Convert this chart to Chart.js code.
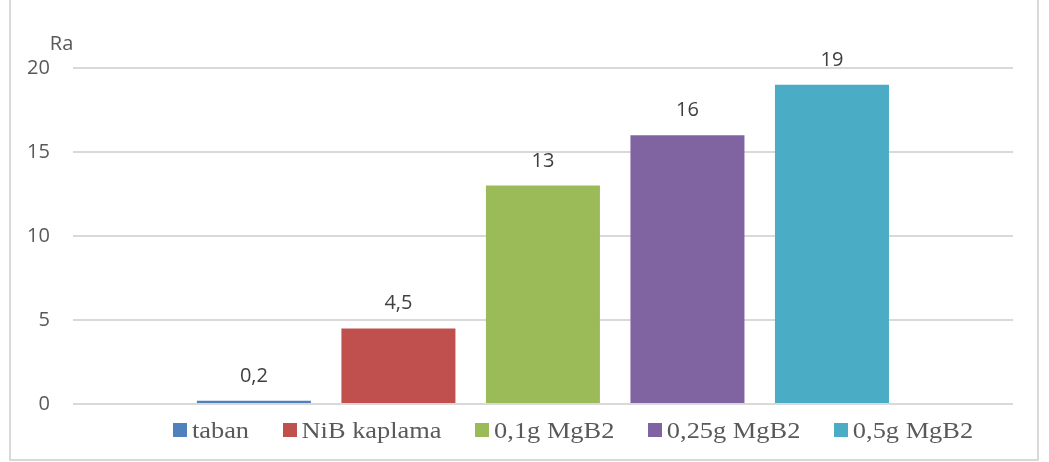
<!DOCTYPE html>
<html>
<head>
<meta charset="utf-8">
<title>Ra</title>
<script src="https://cdn.jsdelivr.net/npm/chart.js@4.4.1/dist/chart.umd.min.js"></script>
<style>
  html, body { margin: 0; padding: 0; background: #ffffff; }
  canvas { display: block; }
</style>
</head>
<body>
<canvas id="chart" width="1049" height="462"></canvas>
<script>
// Surface roughness (Ra) per sample
const categories = [''];
const seriesNames = ['taban', 'NiB kaplama', '0,1g MgB2', '0,25g MgB2', '0,5g MgB2'];
const raValues = [0.2, 4.5, 13, 16, 19];
const seriesColors = ['#4F81BD', '#C0504D', '#9BBB59', '#8064A2', '#4BACC6'];
const yTicks = [0, 5, 10, 15, 20];
const axisUnit = 'Ra';

const SANS = '"Open Sans", "Liberation Sans", sans-serif';
const SERIF = '"Liberation Serif", "Times New Roman", serif';

const formatValue = v => String(v).replace('.', ',');

// Value labels above each bar
const valueLabels = {
  id: 'valueLabels',
  afterDatasetsDraw(chart) {
    const ctx = chart.ctx;
    ctx.save();
    ctx.font = '20px ' + SANS;
    ctx.fillStyle = '#404040';
    ctx.textAlign = 'center';
    ctx.textBaseline = 'alphabetic';
    chart.data.datasets.forEach((ds, i) => {
      chart.getDatasetMeta(i).data.forEach((bar, j) => {
        ctx.fillText(formatValue(ds.data[j]), bar.x, bar.y - 19);
      });
    });
    ctx.restore();
  }
};

// Unit caption above the value axis
const unitCaption = {
  id: 'unitCaption',
  afterDraw(chart) {
    const ctx = chart.ctx;
    const y = chart.scales.y;
    ctx.save();
    ctx.font = '20px ' + SANS;
    ctx.fillStyle = '#595959';
    ctx.textAlign = 'left';
    ctx.textBaseline = 'alphabetic';
    ctx.fillText(axisUnit, chart.chartArea.left - 23, y.getPixelForValue(yTicks[yTicks.length - 1]) - 18);
    ctx.restore();
  }
};

// Legend row under the plot, serif labels
const bottomLegend = {
  id: 'bottomLegend',
  afterDraw(chart) {
    const ctx = chart.ctx;
    const sx = 1.10, box = 14, gap = 5, spacing = 33.5;
    const centerX = 573, midY = 430, baseY = 438;
    ctx.save();
    ctx.font = '24px ' + SERIF;
    const items = chart.data.datasets.map(ds => ({
      label: ds.label,
      color: ds.backgroundColor,
      w: ctx.measureText(ds.label).width * sx
    }));
    const total = items.reduce((s, it) => s + box + gap + it.w, 0) + spacing * (items.length - 1);
    let x = centerX - total / 2;
    items.forEach(it => {
      ctx.fillStyle = it.color;
      ctx.fillRect(Math.round(x), midY - box / 2, box, box);
      ctx.save();
      ctx.translate(x + box + gap, baseY);
      ctx.scale(sx, 1);
      ctx.fillStyle = '#595959';
      ctx.textBaseline = 'alphabetic';
      ctx.fillText(it.label, 0, 0);
      ctx.restore();
      x += box + gap + it.w + spacing;
    });
    ctx.restore();
  }
};

// Light outer frame
const frame = {
  id: 'frame',
  afterDraw(chart) {
    const ctx = chart.ctx;
    ctx.save();
    ctx.strokeStyle = '#d9d9d9';
    ctx.lineWidth = 2;
    ctx.strokeRect(10, -10, 1028, 470);
    ctx.restore();
  }
};

function draw() {
  Chart.defaults.font.family = SANS;
  new Chart(document.getElementById('chart'), {
    type: 'bar',
    data: {
      labels: categories,
      datasets: seriesNames.map((name, i) => ({
        label: name,
        data: [raValues[i]],
        backgroundColor: seriesColors[i],
        borderWidth: 0,
        categoryPercentage: 0.7686,
        barPercentage: 0.789
      }))
    },
    options: {
      responsive: false,
      animation: false,
      layout: { padding: { top: 68, right: 36, bottom: 58, left: 4 } },
      plugins: {
        legend: { display: false },
        tooltip: { enabled: false },
        title: { display: false }
      },
      scales: {
        x: { display: false },
        y: {
          min: 0,
          max: 20,
          afterBuildTicks: axis => { axis.ticks = yTicks.map(v => ({ value: v })); },
          ticks: { padding: 23, color: '#595959', font: { size: 20 } },
          grid: { color: '#d9d9d9', lineWidth: 2, drawTicks: false },
          border: { display: false }
        }
      }
    },
    plugins: [valueLabels, unitCaption, bottomLegend, frame]
  });
}

Promise.all([
  document.fonts.load('20px "Open Sans"'),
  document.fonts.load('24px "Liberation Serif"')
]).then(draw, draw);
</script>
</body>
</html>
